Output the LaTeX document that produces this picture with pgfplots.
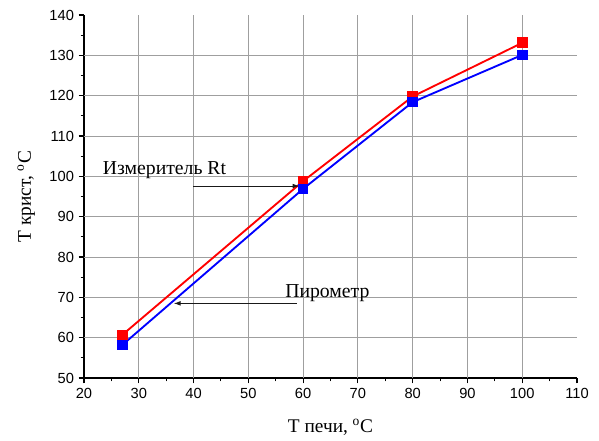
\documentclass[border=0pt]{standalone}
\usepackage{fontspec}
\setmainfont{Liberation Serif}
\setsansfont{Liberation Sans}
\usepackage{pgfplots}
\pgfplotsset{compat=1.18}
\usetikzlibrary{arrows.meta}
\begin{document}
\begin{tikzpicture}
\path[use as bounding box] (-63pt,-47.25pt) rectangle (386.25pt,283.5pt);
\begin{axis}[
  at={(0,0)}, anchor=south west,
  scale only axis, width=369.75pt, height=272.25pt,
  xmin=20, xmax=110, ymin=50, ymax=140,
  axis lines=left,
  axis line style={-, line width=1.1pt, black},
  xtick={20,30,...,110}, ytick={50,60,...,140},
  minor x tick num=1, minor y tick num=1,
  tick align=outside,
  major tick length=4pt, minor tick length=2.5pt,
  tick style={black, line width=0.8pt},
  extra x ticks={30,40,...,100}, extra y ticks={60,70,...,130},
  extra tick style={grid=major, major tick length=0pt, xticklabels={}, yticklabels={}},
  major grid style={gray!75, line width=0.7pt},
  /pgf/number format/assume math mode=true,
  ticklabel style={font=\fontsize{11}{13}\selectfont\sffamily},
  xlabel={Т печи, \textsuperscript{o}C},
  ylabel={Т крист, \textsuperscript{o}C},
  label style={font=\fontsize{14.5}{16}\selectfont},
  xlabel style={yshift=-5pt},
  ylabel style={yshift=0pt},
  clip=false,
]
\addplot[red, line width=1.4pt, mark=square*, mark size=3.3pt, mark options={solid, fill=red}]
  coordinates {(27,60.7) (60,98.8) (80,119.8) (100,133.1)};
\addplot[blue, line width=1.4pt, mark=square*, mark size=3.3pt, mark options={solid, fill=blue}]
  coordinates {(27,58.2) (60,96.9) (80,118.4) (100,130.1)};
\draw[-{Latex[length=5pt,width=3.5pt]}, black!90, line width=0.6pt] (axis cs:39.9,97.6) -- (axis cs:59.3,97.6);
\draw[-{Latex[length=5pt,width=3.5pt]}, black!90, line width=0.6pt] (axis cs:58.8,68.5) -- (axis cs:36.4,68.5);
\node[anchor=west, font=\fontsize{14.8}{16}\selectfont, inner sep=0pt] at (axis cs:23.4,101.6) {Измеритель Rt};
\node[anchor=west, font=\fontsize{14.8}{16}\selectfont, inner sep=0pt] at (axis cs:56.7,71.1) {Пирометр};
\end{axis}
\end{tikzpicture}
\end{document}
